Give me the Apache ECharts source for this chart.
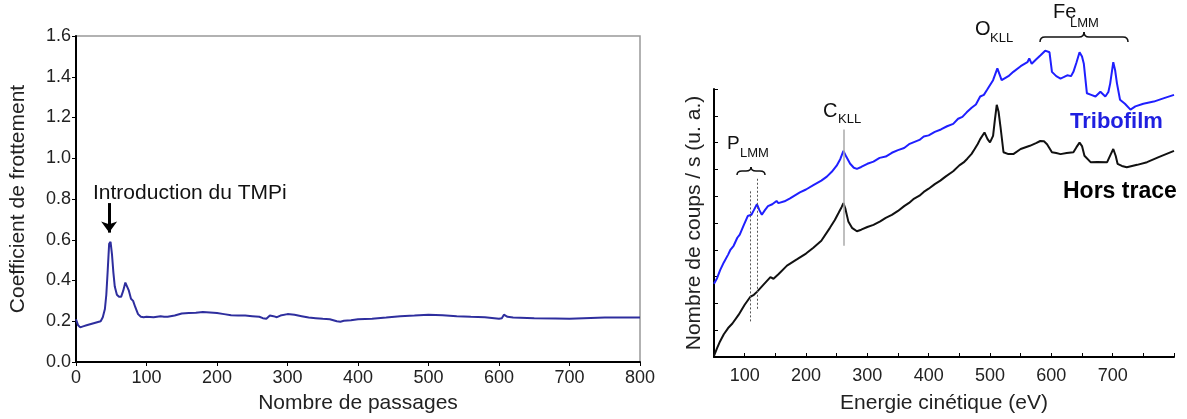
<!DOCTYPE html>
<html>
<head>
<meta charset="utf-8">
<script src="https://cdn.jsdelivr.net/npm/echarts@6/dist/echarts.min.js"></script>
<style>
  html, body { margin: 0; padding: 0; background: #fff; }
  #main { width: 1187px; height: 419px; }
</style>
</head>
<body>
<div id="main"></div>
<script>
// --- left: friction coefficient vs number of passes
const passes = [0, 3, 6, 10, 15, 20, 25, 30, 35, 38, 41, 43, 45, 47, 49, 51, 53, 55, 58, 61, 64, 67, 70, 72, 75, 78, 81, 84, 88, 92, 96, 100,
  110, 120, 125, 130, 140, 150, 160, 170, 180, 190, 200, 210, 220, 230, 240, 250, 260, 265, 270, 275, 280, 285, 290, 300,
  310, 320, 330, 340, 350, 360, 370, 375, 380, 390, 400, 420, 440, 460, 480, 500, 520, 540, 560, 580, 600, 604, 607, 612,
  620, 650, 680, 700, 720, 750, 780, 800];
const coef = [0.21, 0.18, 0.17, 0.175, 0.18, 0.185, 0.19, 0.195, 0.20, 0.22, 0.26, 0.33, 0.45, 0.58, 0.59, 0.53, 0.44, 0.37, 0.33, 0.32, 0.32, 0.35, 0.39, 0.395, 0.35, 0.31, 0.30, 0.27, 0.235, 0.222, 0.22, 0.222,
  0.22, 0.225, 0.222, 0.222, 0.228, 0.238, 0.24, 0.242, 0.245, 0.243, 0.24, 0.235, 0.23, 0.228, 0.228, 0.225, 0.222, 0.215, 0.212, 0.228, 0.225, 0.22, 0.228, 0.235,
  0.232, 0.225, 0.218, 0.215, 0.212, 0.21, 0.20, 0.198, 0.202, 0.205, 0.21, 0.212, 0.218, 0.225, 0.228, 0.232, 0.23, 0.225, 0.222, 0.22, 0.212, 0.215, 0.232, 0.222,
  0.218, 0.215, 0.214, 0.212, 0.215, 0.218, 0.218, 0.218];
const coefTicks = [0, 0.2, 0.4, 0.6, 0.8, 1.0, 1.2, 1.4, 1.6];

// --- right: Auger spectra (arbitrary units)
const eTribo = [50, 55, 60, 66, 73, 77, 79, 82, 88, 92, 98, 105, 111, 115, 120, 124, 128, 133, 138, 145, 152, 155, 158, 165, 174, 190, 200,
  212, 225, 234, 242, 250, 256, 261, 266, 272, 278, 283, 290, 300, 310, 320, 330, 340, 350, 360, 368, 375, 385, 392, 400, 410,
  420, 430, 440, 448, 455, 462, 470, 477, 484, 490, 495, 505, 512, 519, 530,
  538, 550, 561, 564, 568, 575, 582, 590, 593, 597, 601, 608, 615, 620, 626, 632, 636, 641, 646, 650, 653, 658, 665, 672, 680,
  688, 693, 696, 701, 704, 707, 712, 720, 729, 737, 750, 767, 785, 800];
const tribo = [27.3, 29.4, 32.4, 35.3, 38.2, 40.1, 39.9, 41.5, 44.5, 45.7, 48.9, 52.6, 53.1, 54.8, 57.0, 54.8, 53.1, 54.8, 56.3, 57.0, 58.2, 57.4, 56.7, 58.1, 59.2, 61.4, 62.5,
  64.1, 65.8, 67.3, 69.1, 71.4, 73.9, 76.9, 74.6, 72.1, 70.6, 70.2, 70.9, 72.1, 72.9, 74.3, 74.8, 76.2, 77.2, 78.0, 79.4, 80.1, 81.0, 82.3, 82.7, 84.0,
  84.9, 86.1, 87.0, 88.9, 89.6, 91.3, 93.0, 94.2, 97.2, 97.8, 99.6, 103.3, 107.7, 103.3, 104.8,
  106.4, 108.5, 110.0, 111.4, 109.4, 111.0, 112.5, 114.3, 115.0, 113.7, 106.4, 104.8, 103.9, 104.4, 105.1, 104.8, 106.4, 109.9, 113.7, 112.1, 109.4, 98.4, 97.8, 97.2, 99.0,
  97.2, 98.9, 102.1, 110.0, 107.0, 102.1, 96.0, 94.5, 92.3, 93.5, 94.5, 95.3, 96.7, 97.8];
const eHors = [50, 55, 60, 66, 73, 80, 90, 100, 109, 115, 120, 130, 142, 147, 155, 169, 185, 200, 212, 225, 239, 247, 253, 258, 261, 264,
  269, 275, 283, 290, 300, 310, 321, 330, 340, 350, 360, 368, 375, 385, 392, 400, 410, 419, 428, 440, 450, 457, 463, 470, 475, 480,
  484, 491, 496, 500, 505, 508, 511, 514, 517, 522, 530, 538, 550,
  565, 575, 582, 588, 593, 601, 608, 615, 625, 636, 641, 646, 650, 654, 664, 675, 691, 697, 701, 705, 708, 715, 723, 740, 756, 775, 800];
const hors = [0.4, 3.3, 5.9, 8.5, 10.8, 12.5, 15.7, 19.5, 22.4, 23.2, 24.3, 26.8, 29.8, 29.2, 30.9, 34.1, 36.4, 38.6, 40.8, 43.4, 48.2, 51.1, 53.7, 55.9, 57.4, 55.5,
  50.6, 48.2, 46.9, 47.5, 48.5, 49.3, 50.6, 51.9, 53.0, 54.5, 56.3, 57.5, 58.9, 60.2, 61.6, 62.8, 64.5, 65.8, 67.4, 69.3, 71.5, 72.6, 74.0, 75.8, 77.6, 79.5,
  81.3, 83.8, 81.3, 80.1, 82.5, 88.6, 94.1, 91.5, 86.1, 76.4, 75.7, 75.7, 77.6,
  78.8, 79.8, 80.6, 80.5, 79.4, 76.4, 76.1, 75.7, 76.1, 76.4, 78.3, 80.0, 78.7, 75.1, 72.7, 72.8, 72.7, 75.7, 77.6, 75.0, 72.1, 71.3, 70.8, 71.7, 72.7, 74.6, 76.9];
const energyLabels = [100, 200, 300, 400, 500, 600, 700];

// guide lines: [energy, y from, y to]
const guidesP = [[109, 61.8, 12.6], [120, 66.5, 17.6]];
const guideC = [261, 84.9, 41.5];
const guideO = [511, 114.7, 71.3];

const FONT = 'Liberation Sans, Arial, sans-serif';

function zip(xs, ys) {
  return xs.map((x, i) => [x, ys[i]]);
}

// curly brace pointing up, built from lines and quadratic curves
function brace(x0, x1, yTip, yArm, yEnd) {
  const xm = (x0 + x1) / 2, r = 5;
  const st = { stroke: '#111', lineWidth: 1.5, fill: null };
  const q = (a, b, c, d, e, f) => ({ type: 'bezierCurve', shape: { x1: a, y1: b, x2: c, y2: d, cpx1: e, cpy1: f }, style: st });
  const l = (a, b, c, d) => ({ type: 'line', shape: { x1: a, y1: b, x2: c, y2: d }, style: st });
  return {
    type: 'group',
    children: [
      q(x0, yEnd, x0 + r, yArm, x0, yArm),
      l(x0 + r, yArm, xm - r, yArm),
      q(xm - r, yArm, xm, yTip, xm, yArm),
      q(xm, yTip, xm + r, yArm, xm, yArm),
      l(xm + r, yArm, x1 - r, yArm),
      q(x1 - r, yArm, x1, yEnd, x1, yArm)
    ]
  };
}

const chart = echarts.init(document.getElementById('main'), null, { renderer: 'canvas' });

const dotted = { color: '#555', width: 1, type: [2, 2] };

const option = {
  animation: false,
  textStyle: { fontFamily: FONT },
  grid: [
    { left: 76, top: 36, width: 564, height: 329, show: true, borderColor: '#999', borderWidth: 1.5, backgroundColor: 'transparent' },
    { left: 714, top: 89, width: 460, height: 271 }
  ],
  xAxis: [
    {
      gridIndex: 0, type: 'value', min: 0, max: 800, interval: 100,
      name: 'Nombre de passages', nameLocation: 'middle', nameGap: 31,
      nameTextStyle: { fontSize: 21, color: '#222', fontFamily: FONT },
      axisLine: { lineStyle: { color: '#000', width: 2 } },
      axisTick: { show: true, length: 4, lineStyle: { color: '#000' } },
      axisLabel: { fontSize: 18, color: '#222', margin: 7, fontFamily: FONT },
      splitLine: { show: false }
    },
    {
      gridIndex: 1, type: 'value', min: 50, max: 800, interval: 50,
      name: 'Energie cinétique (eV)', nameLocation: 'middle', nameGap: 36,
      nameTextStyle: { fontSize: 21, color: '#222', fontFamily: FONT },
      axisLine: { lineStyle: { color: '#000', width: 2 } },
      axisTick: { show: true, inside: true, length: 4, lineStyle: { color: '#000' } },
      axisLabel: {
        fontSize: 18, color: '#222', margin: 10, fontFamily: FONT,
        formatter: v => (energyLabels.indexOf(v) >= 0 ? String(v) : '')
      },
      splitLine: { show: false }
    }
  ],
  yAxis: [
    {
      gridIndex: 0, type: 'value', min: 0, max: 1.6, interval: 0.2,
      name: 'Coefficient de frottement', nameLocation: 'middle', nameGap: 47,
      nameTextStyle: { fontSize: 21, color: '#222', fontFamily: FONT },
      axisLine: { show: true, lineStyle: { color: '#000', width: 2 } },
      axisTick: { show: true, length: 4, lineStyle: { color: '#000' } },
      axisLabel: {
        fontSize: 18, color: '#222', margin: 5, fontFamily: FONT,
        formatter: v => (coefTicks.some(t => Math.abs(t - v) < 1e-6) ? v.toFixed(1) : '')
      },
      splitLine: { show: false }
    },
    {
      gridIndex: 1, type: 'value', min: 0, max: 100, interval: 10,
      name: 'Nombre de coups / s (u. a.)', nameLocation: 'middle', nameGap: 9,
      nameTextStyle: { fontSize: 21, color: '#222', fontFamily: FONT },
      axisLine: { show: true, lineStyle: { color: '#000', width: 2 } },
      axisTick: { show: true, inside: true, length: 4, lineStyle: { color: '#000' } },
      axisLabel: { show: false },
      splitLine: { show: false }
    }
  ],
  series: [
    {
      type: 'line', xAxisIndex: 0, yAxisIndex: 0,
      data: zip(passes, coef),
      showSymbol: false, symbol: 'none',
      lineStyle: { color: '#2e2e9e', width: 2 },
      markLine: {
        silent: true, symbol: ['none', 'arrow'], symbolSize: [12, 11],
        label: { show: false },
        lineStyle: { color: '#000', width: 3, type: 'solid' },
        data: [[{ coord: [47, 0.78] }, { coord: [47, 0.635] }]]
      }
    },
    {
      type: 'line', xAxisIndex: 1, yAxisIndex: 1, clip: false,
      data: zip(eHors, hors),
      showSymbol: false, symbol: 'none',
      lineStyle: { color: '#111', width: 2 }
    },
    {
      type: 'line', xAxisIndex: 1, yAxisIndex: 1, clip: false, z: 3,
      data: zip(eTribo, tribo),
      showSymbol: false, symbol: 'none',
      lineStyle: { color: '#1f1fff', width: 2 },
      markLine: {
        silent: true, symbol: 'none', label: { show: false },
        data: [
          [{ coord: [guidesP[0][0], guidesP[0][1]], lineStyle: dotted }, { coord: [guidesP[0][0], guidesP[0][2]] }],
          [{ coord: [guidesP[1][0], guidesP[1][1]], lineStyle: dotted }, { coord: [guidesP[1][0], guidesP[1][2]] }],
          [{ coord: [guideC[0], guideC[1]], lineStyle: { color: '#aaa', width: 1.5, type: 'solid' } }, { coord: [guideC[0], guideC[2]] }],
          [{ coord: [guideO[0], guideO[1]], lineStyle: dotted }, { coord: [guideO[0], guideO[2]] }]
        ]
      }
    }
  ],
  graphic: [
    { type: 'text', x: 93, y: 193, style: { text: 'Introduction du TMPi', font: '21px ' + FONT, fill: '#111', verticalAlign: 'middle' } },
    // peak labels
    { type: 'text', x: 727, y: 144, style: { text: 'P', font: '19px ' + FONT, fill: '#111', verticalAlign: 'middle' } },
    { type: 'text', x: 740, y: 153, style: { text: 'LMM', font: '13px ' + FONT, fill: '#111', verticalAlign: 'middle' } },
    { type: 'text', x: 823, y: 111, style: { text: 'C', font: '20px ' + FONT, fill: '#111', verticalAlign: 'middle' } },
    { type: 'text', x: 838, y: 119, style: { text: 'KLL', font: '13px ' + FONT, fill: '#111', verticalAlign: 'middle' } },
    { type: 'text', x: 975, y: 29, style: { text: 'O', font: '20px ' + FONT, fill: '#111', verticalAlign: 'middle' } },
    { type: 'text', x: 990, y: 38, style: { text: 'KLL', font: '13px ' + FONT, fill: '#111', verticalAlign: 'middle' } },
    { type: 'text', x: 1053, y: 12, style: { text: 'Fe', font: '20px ' + FONT, fill: '#111', verticalAlign: 'middle' } },
    { type: 'text', x: 1070, y: 23, style: { text: 'LMM', font: '13px ' + FONT, fill: '#111', verticalAlign: 'middle' } },
    // braces
    brace(737, 765, 167, 171, 175),
    brace(1040, 1128, 32, 37, 42),
    // series labels
    { type: 'text', x: 1070, y: 122, style: { text: 'Tribofilm', font: 'bold 22px ' + FONT, fill: '#1f1fe0', verticalAlign: 'middle' } },
    { type: 'text', x: 1063, y: 192, style: { text: 'Hors trace', font: 'bold 23px ' + FONT, fill: '#000', verticalAlign: 'middle' } }
  ]
};

chart.setOption(option);
</script>
</body>
</html>
